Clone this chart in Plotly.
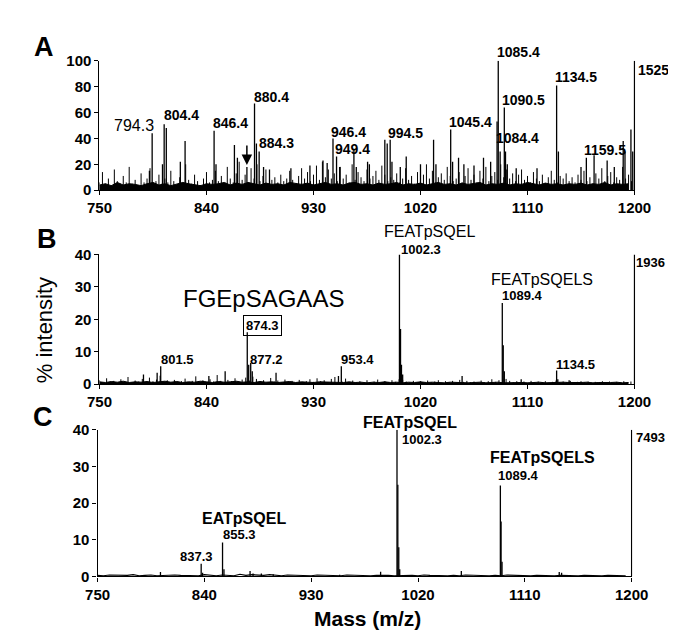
import plotly.graph_objects as go

W, H = 676, 630
FONT = "Liberation Sans, Arial, Helvetica, sans-serif"

# ---------------- data ----------------
x_ticks = [750, 840, 930, 1020, 1110, 1200]
a_y_ticks = [0, 20, 40, 60, 80, 100]
bc_y_ticks = [0, 10, 20, 30, 40]

# Panel A: labelled / visible peaks (m/z, % intensity)
a_peak_mass = [792, 794.3, 803, 804.4, 806.2, 818, 822, 846.4, 848, 863.5, 866, 874,
               880.4, 882, 884.3, 888, 893, 911, 927, 938, 941.5, 946.4, 949.4, 952,
               964, 966, 975.5, 977, 990, 992, 994.5, 996, 1003, 1008, 1020, 1031, 1033,
               1045.4, 1047, 1052, 1056.5, 1065, 1073, 1079, 1084.4, 1085.4, 1087,
               1090.5, 1091.5, 1093, 1100.5, 1118, 1134.5, 1136, 1155, 1159.5, 1166,
               1177, 1183, 1190.5, 1192, 1197, 1198.5]
a_peak_int = [15, 44, 20, 51, 48, 22, 38, 46, 20, 35, 25, 18,
              67, 36, 30, 18, 16, 17, 19, 23, 21, 40, 26, 18,
              31, 18, 22, 20, 39, 36, 39, 22, 18, 26, 20, 39, 20,
              47, 22, 25, 20, 19, 25, 22, 53, 100, 30,
              64, 30, 20, 17, 17, 81, 30, 18, 25, 27,
              23, 18, 38, 30, 47, 30]
a_full_scale = 100
# noise spikes (every 2.5 m/z from 750)
a_noise_start, a_noise_step = 750, 2.5
a_noise_int = [6, 14, 5, 9, 4, 16, 7, 5, 11, 6, 18, 5, 8, 4, 13, 6, 9, 17, 5, 7,
               12, 5, 9, 6, 15, 7, 4, 10, 6, 20, 8, 5, 12, 7, 4, 9, 14, 6, 8, 15,
               7, 11, 5, 18, 9, 6, 13, 22, 8, 12, 6, 17, 9, 20, 7, 11, 16, 5, 8, 10,
               6, 12, 7, 9, 15, 8, 5, 11, 17, 9, 14, 7, 12, 19, 8, 22, 10, 16, 9, 13,
               7, 18, 9, 12, 6, 20, 8, 14, 10, 7, 16, 9, 11, 15, 8, 19, 12, 7, 10, 8,
               13, 6, 9, 17, 8, 11, 5, 14, 7, 12, 20, 9, 15, 6, 10, 13, 8, 18, 11, 7,
               9, 14, 6, 11, 17, 8, 12, 6, 15, 9, 18, 7, 11, 14, 8, 20, 10, 16, 9, 13,
               7, 12, 16, 8, 11, 6, 14, 9, 7, 12, 5, 10, 15, 8, 6, 11, 9, 13, 7, 10,
               6, 12, 8, 15, 7, 10, 5, 13, 9, 17, 7, 11, 14, 6, 10, 8, 18, 9, 12, 7]
# dense baseline level (every 5 m/z from 750)
a_floor_start, a_floor_step = 750, 5
a_floor_int = [4, 5, 3.5, 6, 4, 5, 4.5, 3.5, 5, 6, 4, 5, 3.5, 4.5, 6, 5, 4, 3.5, 5, 4.5,
               5, 6, 4, 5.5, 4.5, 6, 5, 4, 5.5, 4.5, 5, 4, 6, 5, 4.5, 5.5, 4, 5, 6, 4.5,
               5, 4, 5.5, 6, 4.5, 5, 4, 5.5, 4.5, 5, 6, 4, 5, 4.5, 5.5, 4, 5, 6, 4.5, 5,
               4, 5.5, 4.5, 5, 6, 4, 5, 4.5, 5.5, 4, 5, 4.5, 6, 5, 4, 5.5, 4.5, 5, 4, 5,
               4.5, 5.5, 4, 5, 4.5, 6, 4, 5, 4.5, 5]

# Panel B
b_peak_mass = [787, 798.5, 801.5, 842, 855.7, 874.3, 875.5, 877.2, 878.5, 898.5,
               951, 953.4, 1002.3, 1003.2, 1004, 1005, 1055, 1088.8, 1089.6, 1090.5,
               1104.7, 1134.5, 1135.5, 1145]
b_peak_int = [3, 3.5, 5.5, 2.5, 4, 16, 6, 6.5, 4, 3.5,
              2.5, 5.5, 40, 17, 6, 3, 2.5, 25, 12, 4,
              1.5, 4.2, 1.5, 1.2]
b_full_scale = 40
b_noise_start, b_noise_step = 750, 3
b_noise_int = [1.2, 0.5, 1.8, 0.6, 1.0, 0.4, 1.5, 0.7, 2.2, 0.5, 1.1, 0.8, 1.6, 0.5, 2.0, 0.9, 1.4, 2.6, 0.8, 1.2,
               0.6, 1.3, 0.5, 0.9, 1.7, 0.6, 1.0, 2.4, 0.7, 1.2, 0.5, 1.5, 0.8, 2.8, 1.0, 0.6, 1.3, 0.9, 1.8, 0.7,
               1.4, 2.0, 1.1, 2.3, 1.6, 0.8, 1.2, 0.6, 1.9, 0.8, 1.1, 0.5, 1.4, 0.7, 1.0, 0.4, 1.3, 0.6, 0.9, 1.5,
               0.7, 1.8, 0.9, 1.2, 0.5, 1.6, 2.2, 1.0, 0.8, 1.7, 0.6, 1.1, 0.5, 0.9, 0.4, 1.2, 0.6, 0.8, 1.4, 0.5,
               0.9, 0.6, 1.2, 0.7, 1.5, 1.3, 0.8, 0.4, 1.0, 0.6, 0.9, 0.3, 1.1, 0.5, 0.8, 1.2, 0.4, 0.9, 0.6, 1.0,
               0.5, 1.3, 0.7, 1.0, 0.6, 0.8, 0.4, 1.1, 0.6, 0.9, 1.5, 0.7, 1.2, 0.5, 1.6, 1.0, 0.6, 0.9, 0.5, 0.8,
               0.4, 1.0, 0.6, 0.8, 0.5, 0.9, 0.4, 0.7, 1.1, 0.5, 0.8, 0.6, 1.0, 0.4, 0.7, 0.9, 0.5, 0.8, 0.4, 0.7,
               0.5, 0.9, 0.6, 0.8, 0.4, 0.7, 0.5, 0.9, 0.6, 0.8]
b_floor_start, b_floor_step = 750, 5
b_floor_int = [0.7, 0.5, 0.8, 0.6, 0.9, 0.5, 0.7, 0.6, 0.8, 0.5, 0.7, 0.9, 0.6, 0.8, 0.5, 0.7, 0.6, 0.9, 0.7, 0.5,
               0.8, 0.6, 0.7, 0.9, 0.6, 0.7, 0.5, 0.8, 0.6, 0.7, 0.5, 0.6, 0.8, 0.5, 0.7, 0.6, 0.5, 0.7, 0.6, 0.5,
               0.6, 0.5, 0.7, 0.5, 0.6, 0.4, 0.6, 0.5, 0.7, 0.5, 0.6, 0.4, 0.6, 0.5, 0.7, 0.5, 0.6, 0.5, 0.4, 0.6,
               0.5, 0.6, 0.4, 0.5, 0.6, 0.4, 0.5, 0.6, 0.4, 0.5, 0.6, 0.5, 0.4, 0.5, 0.6, 0.4, 0.5, 0.4, 0.6, 0.5,
               0.4, 0.5, 0.6, 0.4, 0.5, 0.4, 0.5, 0.6, 0.4, 0.5]

# Panel C
c_peak_mass = [803, 837.3, 838.5, 855.3, 856.5, 878.5, 881, 888, 898, 954, 988.5,
               1002.3, 1003, 1003.8, 1004.6, 1056.5, 1089.4, 1090, 1090.8, 1139, 1141]
c_peak_int = [1.2, 3.5, 1.0, 9.3, 2.0, 1.5, 0.8, 0.8, 0.6, 0.5, 1.3,
              40, 25, 8, 2, 1.5, 24.8, 15, 4, 1.2, 1.0]
c_full_scale = 40
c_noise_start, c_noise_step = 750, 5
c_noise_int = [0.3, 0.2, 0.4, 0.3, 0.2, 0.3, 0.5, 0.2, 0.3, 0.4, 0.2, 0.3, 0.2, 0.4, 0.3, 0.2, 0.3, 0.2, 0.5, 0.3,
               0.2, 0.4, 0.3, 0.2, 0.6, 0.3, 0.5, 0.4, 0.3, 0.5, 0.3, 0.2, 0.4, 0.3, 0.2, 0.3, 0.2, 0.4, 0.3, 0.2,
               0.3, 0.2, 0.4, 0.3, 0.2, 0.3, 0.2, 0.3, 0.4, 0.3, 0.2, 0.3, 0.2, 0.3, 0.2, 0.4, 0.3, 0.2, 0.3, 0.2,
               0.3, 0.2, 0.4, 0.3, 0.2, 0.3, 0.2, 0.3, 0.2, 0.4, 0.3, 0.2, 0.3, 0.2, 0.3, 0.2, 0.3, 0.2, 0.3, 0.2,
               0.3, 0.2, 0.3, 0.2, 0.3, 0.2, 0.3, 0.2, 0.3, 0.2]

# peak label texts
a_labels = ["794.3", "804.4", "846.4", "880.4", "884.3", "946.4", "949.4", "994.5",
            "1045.4", "1085.4", "1090.5", "1084.4", "1134.5", "1159.5", "1525."]
b_labels = ["FGEpSAGAAS", "874.3", "801.5", "877.2", "953.4", "FEATpSQEL", "1002.3",
            "FEATpSQELS", "1089.4", "1134.5", "1936"]
c_labels = ["FEATpSQEL", "1002.3", "FEATpSQELS", "1089.4", "EATpSQEL", "855.3", "837.3", "7493"]


# ---------------- helpers ----------------
def fx(px):
    return px / W


def fy(py):
    return 1 - py / H


def grid(start, step, vals):
    return [start + step * i for i in range(len(vals))]


def sticks(mass, inten):
    xs, ys = [], []
    for m, h in zip(mass, inten):
        xs += [m, m, None]
        ys += [0, h, None]
    return xs, ys


fig = go.Figure()


def add_panel(suf, pm, pi, full, noise=None, floor=None, line_noise=None):
    ax = dict(xaxis="x" + suf, yaxis="y" + suf, hoverinfo="skip")
    if floor is not None:
        fxs = grid(*floor[:2], floor[2])
        fig.add_trace(go.Scatter(x=fxs, y=floor[2], mode="lines", fill="tozeroy",
                                 fillcolor="black", line=dict(color="black", width=1), **ax))
    if noise is not None:
        nx = grid(*noise[:2], noise[2])
        sx, sy = sticks(nx, noise[2])
        fig.add_trace(go.Scatter(x=sx, y=sy, mode="lines", line=dict(color="black", width=1), **ax))
    if line_noise is not None:
        nx = grid(*line_noise[:2], line_noise[2])
        fig.add_trace(go.Scatter(x=nx, y=line_noise[2], mode="lines",
                                 line=dict(color="black", width=1.2), **ax))
    sx, sy = sticks(list(pm) + [1200], list(pi) + [full])
    fig.add_trace(go.Scatter(x=sx, y=sy, mode="lines", line=dict(color="black", width=1.3), **ax))


add_panel("", a_peak_mass, a_peak_int, a_full_scale,
          noise=(a_noise_start, a_noise_step, a_noise_int),
          floor=(a_floor_start, a_floor_step, a_floor_int))
add_panel("2", b_peak_mass, b_peak_int, b_full_scale,
          noise=(b_noise_start, b_noise_step, b_noise_int),
          floor=(b_floor_start, b_floor_step, b_floor_int))
add_panel("3", c_peak_mass, c_peak_int, c_full_scale,
          line_noise=(c_noise_start, c_noise_step, c_noise_int))

# geometry (pixel) of each panel: x of 750, x of 1200, y of 0, y of top
geo = {"": (82, 641, 178, 45, 100, a_y_ticks),
       "2": (82, 641, 377.3, 244, 40, bc_y_ticks),
       "3": (80, 638, 575, 424.3, 40, bc_y_ticks)}

tickfont = dict(family=FONT, size=15, color="black", weight="bold")
layout = dict(width=W, height=H, margin=dict(l=0, r=0, t=0, b=0),
              paper_bgcolor="white", plot_bgcolor="white", showlegend=False,
              font=dict(family=FONT, color="black"))
for suf, (x0, x1, y0, y1, ytop, yt) in geo.items():
    scale = (x1 - x0) / 450.0
    right = x1 + 0.6 * scale
    layout["xaxis" + suf] = dict(domain=[fx(x0), fx(right)], range=[750, 1200.6],
                                 anchor="y" + suf, tickvals=x_ticks, showline=True,
                                 linecolor="black", linewidth=1.3, ticks="outside",
                                 ticklen=4, tickcolor="black", showgrid=False,
                                 zeroline=False, tickfont=tickfont, fixedrange=True)
    layout["yaxis" + suf] = dict(domain=[fy(y0), fy(y1)], range=[0, ytop],
                                 anchor="x" + suf, tickvals=yt, showline=True,
                                 linecolor="black", linewidth=1.3, ticks="outside",
                                 ticklen=4, tickcolor="black", showgrid=False,
                                 zeroline=False, tickfont=tickfont, fixedrange=True)
fig.update_layout(**layout)

ann = []


def label(text, px, py, size=13, bold=True, xanchor="center", **kw):
    ann.append(dict(text=text, x=fx(px), y=fy(py), xref="paper", yref="paper",
                    showarrow=False, xanchor=xanchor, yanchor="middle",
                    font=dict(family=FONT, size=size, color="black",
                              weight="bold" if bold else "normal"), **kw))


# Panel A labels
a_pos = [(118, 111, 16, False), (167.5, 101, 14, True), (219, 109, 14, True),
         (261.5, 82, 14, True), (266.5, 130, 14, True), (342, 118, 14, True),
         (346.5, 136, 14, True), (402, 119, 14, True), (469.5, 108, 14, True),
         (520, 36, 14, True), (525.5, 85, 14, True), (518.5, 124, 14, True),
         (580, 62, 14, True), (610, 137, 14, True), (643, 54, 14, True)]
for t, (px, py, s, b) in zip(a_labels, a_pos):
    label(t, px, py, s, b, xanchor="left" if t == "1525." else "center")

# Panel B labels
b_pos = [(253, 289, 24, False), (252.5, 317, 13, True), (163.5, 352.5, 13, True),
         (256.5, 352.5, 13, True), (351.5, 352, 13, True), (427, 220, 16, False),
         (417.5, 238.5, 13, True), (544.5, 270, 16, False), (524, 286, 13, True),
         (579.5, 357, 13, True), (657.5, 252, 13, True)]
for t, (px, py, s, b) in zip(b_labels, b_pos):
    if t == "874.3":
        label(t, px, py, s, b, bordercolor="black", borderwidth=1, borderpad=2)
    else:
        label(t, px, py, s, b)

# Panel C labels
c_pos = [(406.5, 417, 16, True), (419, 434, 13, True), (544.5, 453, 16, True),
         (520, 471, 13, True), (233, 515, 16, True), (228, 531.5, 13, True),
         (183, 554.5, 13, True), (658, 432, 13, True)]
for t, (px, py, s, b) in zip(c_labels, c_pos):
    label(t, px, py, s, b)

# panel letters, axis titles
label("A", 24, 31, 27, True)
label("B", 27, 228, 27, True)
label("C", 23, 411, 27, True)
ann.append(dict(text="% intensity", x=fx(24), y=fy(322), xref="paper", yref="paper",
                showarrow=False, textangle=-90, xanchor="center", yanchor="middle",
                font=dict(family=FONT, size=22, color="black")))
label("Mass (m/z)", 362, 618, 21, True)

# arrow in panel A
ann.append(dict(x=fx(236), y=fy(152), xref="paper", yref="paper", ax=0, ay=-21,
                showarrow=True, arrowhead=2, arrowsize=1.4, arrowwidth=1.5,
                arrowcolor="black", text=""))

fig.update_layout(annotations=ann)
fig.write_html("out.html")
